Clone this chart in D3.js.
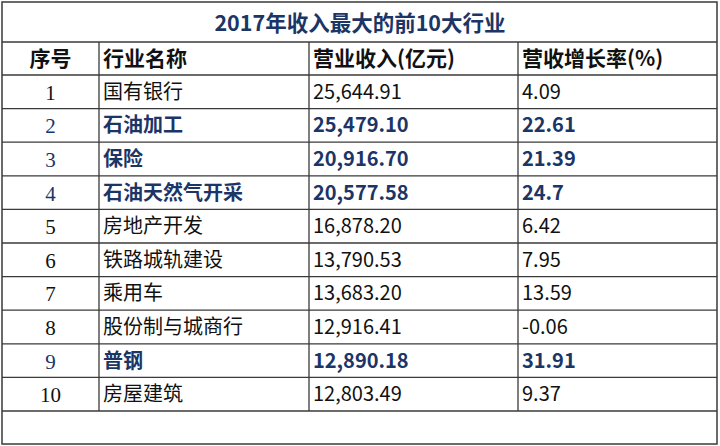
<!DOCTYPE html>
<html><head><meta charset="utf-8">
<script src="https://cdn.jsdelivr.net/npm/d3@7/dist/d3.min.js"></script>
<style>body{margin:0;background:#fff}</style></head>
<body><svg id="c" width="720" height="446"></svg>
<script>
const title = "2017年收入最大的前10大行业";
const headers = ["序号","行业名称","营业收入(亿元)","营收增长率(%)"];
const ranks = ["1","2","3","4","5","6","7","8","9","10"];
const industries = ["国有银行","石油加工","保险","石油天然气开采","房地产开发","铁路城轨建设","乘用车","股份制与城商行","普钢","房屋建筑"];
const revenue = ["25,644.91","25,479.10","20,916.70","20,577.58","16,878.20","13,790.53","13,683.20","12,916.41","12,890.18","12,803.49"];
const growth = ["4.09","22.61","21.39","24.7","6.42","7.95","13.59","-0.06","31.91","9.37"];
const highlighted = [false,true,true,true,false,false,false,false,true,false];

const svg = d3.select("#c");
const blue = "#1b3566", line = "#3a3a3a";
const colX = [2,99,309,518,717];
const y = d3.scaleBand().domain(d3.range(10)).range([75,411]);
const font = "'Noto Sans CJK SC','Noto Sans',sans-serif";

svg.append("rect").attr("x",2).attr("y",2).attr("width",715).attr("height",442).attr("fill","none").attr("stroke",line).attr("stroke-width",1.5);
svg.append("text").attr("x",360).attr("y",31).attr("text-anchor","middle").attr("font-family",font).attr("font-weight","bold").attr("font-size",21.5).attr("fill",blue).text(title);
const hy = [42,75].concat(d3.range(10).map(i=>y(i)+y.bandwidth()));
svg.selectAll("line.h").data(hy).join("line").attr("x1",2).attr("x2",717).attr("y1",d=>d).attr("y2",d=>d).attr("stroke",line).attr("stroke-width",1.3);
svg.selectAll("line.v").data(colX.slice(1,4)).join("line").attr("x1",d=>d).attr("x2",d=>d).attr("y1",42).attr("y2",411).attr("stroke",line).attr("stroke-width",1.3);
headers.forEach((h,i)=>{
  svg.append("text").attr("x", i===0 ? (colX[0]+colX[1])/2 : colX[i]+4).attr("y",66)
   .attr("text-anchor", i===0?"middle":"start").attr("font-family",font).attr("font-weight","bold").attr("font-size",21).attr("fill","#111").text(h);
});
d3.range(10).forEach(i=>{
  const hl = highlighted[i], cy = y(i)+y.bandwidth()/2+7, fill = hl?blue:"#111", fw = hl?"bold":"normal";
  svg.append("text").attr("x",(colX[0]+colX[1])/2).attr("y",cy+1).attr("text-anchor","middle").attr("font-family","'Liberation Serif',serif").attr("font-size",21).attr("fill",fill).text(ranks[i]);
  [industries[i],revenue[i],growth[i]].forEach((t,j)=>{
    svg.append("text").attr("x",colX[j+1]+4).attr("y",cy).attr("font-family",font).attr("font-weight",fw).attr("font-size",20).attr("fill",fill).text(t);
  });
});
</script></body></html>
